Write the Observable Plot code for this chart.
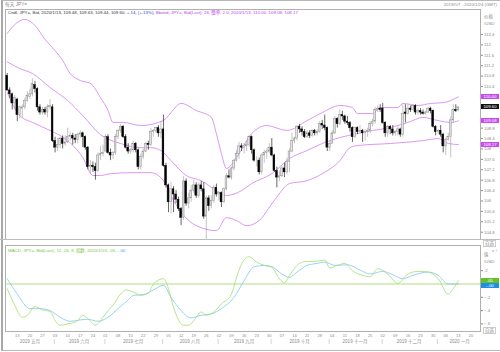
<!DOCTYPE html>
<html><head><meta charset="utf-8">
<script src="https://cdn.jsdelivr.net/npm/d3@7"></script>
<script src="https://cdn.jsdelivr.net/npm/@observablehq/plot@0.6"></script>
<style>
body{margin:0;background:#fff;}
#wrap{position:relative;width:500px;height:352px;overflow:hidden;font-family:"Liberation Sans","Noto Sans CJK SC",sans-serif;}
.t{position:absolute;white-space:nowrap;font-size:4.4px;line-height:5px;color:#8a8a8a;}
.box{position:absolute;left:481px;width:18px;height:5px;font-size:4.3px;line-height:5px;text-align:center;white-space:nowrap;}
.abs{position:absolute;}
</style></head><body><div id="wrap"></div>
<script>
// ---------- DATA ----------
const weekLabels = ["13","20","27","03","10","17","24","01","08","15","22","29","05","12","19","26","02","09","16","23","30","07","14","21","28","04","11","18","25","02","09","16","23","30","06","13","20"];
const monthLabels = ["2019 五月","2019 六月","2019 七月","2019 八月","2019 九月","2019 十月","2019 十一月","2019 十二月","2020 一月"];
const monthStart = [0,19,39,62,84,105,128,149,171];
const monthEnd   = [18,38,61,83,104,127,148,170,188];

const open = [
110.80,110.25,110.10,109.75,109.90,109.30,109.55,109.60,109.85,110.00,
110.10,110.45,110.30,109.60,109.40,109.50,109.40,109.60,109.60,108.30,
108.05,108.15,108.40,108.20,108.25,108.45,108.50,108.40,108.35,108.55,
108.60,108.45,108.05,107.30,107.35,107.30,107.15,107.75,107.80,107.90,
108.45,107.85,107.75,107.85,108.45,108.70,108.85,108.45,108.05,107.90,
107.95,108.20,107.95,107.30,107.70,107.90,108.20,108.15,108.65,108.70,
108.80,108.60,108.75,107.35,106.60,105.95,106.45,106.25,106.05,105.70,
105.35,106.75,105.90,106.10,106.40,106.60,106.20,106.60,106.45,105.40,
106.10,105.80,106.00,106.50,106.25,106.30,105.95,106.45,106.95,106.90,
107.25,107.55,107.80,108.10,108.05,108.10,108.15,108.45,107.95,107.55,
107.55,107.10,107.75,107.85,107.90,108.05,107.75,107.15,106.90,106.95,
107.25,107.10,107.50,107.90,108.30,108.40,108.85,108.75,108.65,108.45,
108.60,108.50,108.70,108.60,108.65,108.95,108.90,108.80,108.05,108.20,
108.60,109.15,108.95,109.30,109.25,109.05,109.00,108.80,108.45,108.80,
108.65,108.70,108.60,108.65,108.70,108.95,109.05,109.50,109.55,109.55,
109.00,108.60,108.85,108.75,108.60,108.65,108.75,108.55,109.40,109.35,
109.55,109.50,109.65,109.40,109.45,109.40,109.35,109.40,109.55,109.45,
108.85,108.65,108.70,108.55,108.10,108.35,108.45,109.10,109.50,109.48];
const high = [
110.90,110.35,110.15,110.05,109.95,109.65,109.70,109.95,110.20,110.30,
110.70,110.60,110.35,109.70,109.60,109.60,109.70,109.90,109.70,108.45,
108.40,108.45,108.50,108.50,108.80,108.65,108.60,108.55,108.60,108.70,
108.65,108.50,108.10,107.55,107.50,107.45,107.85,108.10,108.15,108.55,
108.55,108.00,107.90,108.55,108.75,108.95,108.90,108.55,108.20,108.00,
108.30,108.25,108.00,107.80,108.00,108.25,108.30,108.80,108.75,108.85,
108.90,109.05,109.30,107.45,106.65,106.70,106.55,106.40,106.15,105.75,
106.95,106.85,106.30,106.60,106.80,106.70,106.70,106.75,106.70,106.20,
106.20,106.20,106.60,106.65,106.35,106.35,106.50,107.05,107.20,107.30,
107.60,107.95,108.25,108.20,108.20,108.30,108.50,108.50,108.00,107.70,
107.65,107.80,107.95,108.00,108.20,108.40,107.80,107.30,107.15,107.35,
107.45,107.65,108.00,108.60,108.45,108.90,108.95,108.85,108.75,108.70,
108.70,108.75,108.75,108.75,109.05,109.10,109.30,108.85,108.30,108.70,
109.25,109.20,109.50,109.45,109.30,109.25,109.05,108.85,108.85,108.85,
108.90,108.75,108.75,108.80,109.05,109.15,109.60,109.65,109.70,109.75,
109.05,108.90,108.90,108.90,108.70,108.85,108.80,109.70,109.70,109.70,
109.65,109.70,109.70,109.55,109.55,109.50,109.45,109.60,109.60,109.50,
108.90,108.75,108.90,108.60,108.40,108.60,109.25,109.70,109.70,109.63];
const low = [
110.20,109.95,109.50,109.50,109.05,109.15,109.20,109.50,109.80,109.90,
110.00,110.15,109.45,109.30,109.30,109.30,109.20,109.50,108.25,107.85,
107.90,108.00,108.00,108.10,108.20,108.30,108.15,108.20,108.20,108.40,
108.05,107.95,107.20,107.05,107.10,106.80,107.10,107.55,107.70,107.90,
107.80,107.55,107.60,107.75,108.35,108.60,108.40,108.00,107.80,107.80,
107.85,107.85,107.20,107.20,107.60,107.85,107.95,108.10,108.45,108.60,
108.45,108.40,107.30,106.50,105.55,105.50,105.55,105.90,105.60,105.05,
105.25,105.80,105.70,105.95,106.30,106.10,106.10,106.35,105.30,104.50,
105.60,105.70,105.90,106.15,106.00,105.75,105.90,106.40,106.85,106.80,
107.15,107.50,107.60,107.90,107.80,107.90,108.05,107.80,107.50,107.30,
107.00,107.00,107.45,107.60,107.80,107.70,107.10,106.50,106.75,106.90,
106.90,107.00,107.10,107.85,108.20,108.30,108.60,108.50,108.40,108.40,
108.40,108.45,108.50,108.50,108.60,108.75,108.70,107.90,107.90,108.20,
108.55,108.80,108.90,109.10,108.95,108.90,108.65,108.25,108.40,108.55,
108.60,108.25,108.30,108.45,108.60,108.85,108.95,109.40,109.40,108.95,
108.45,108.45,108.55,108.50,108.50,108.50,108.45,108.45,109.00,109.30,
109.40,109.45,109.30,109.30,109.30,109.30,109.30,109.35,109.35,108.80,
108.50,108.55,108.45,107.85,107.75,108.30,107.65,109.00,109.40,109.44];
const close = [
110.25,110.10,109.75,109.95,109.30,109.60,109.60,109.85,110.05,110.10,
110.50,110.30,109.60,109.40,109.50,109.40,109.60,109.65,108.30,108.05,
108.15,108.40,108.20,108.25,108.45,108.50,108.40,108.35,108.55,108.60,
108.45,108.05,107.30,107.35,107.30,107.15,107.75,107.80,107.85,108.45,
107.85,107.75,107.85,108.45,108.70,108.85,108.45,108.05,107.90,107.95,
108.20,107.95,107.30,107.70,107.90,108.20,108.15,108.65,108.70,108.80,
108.60,108.75,107.35,106.60,105.95,106.45,106.25,106.05,105.70,105.35,
106.75,105.90,106.10,106.40,106.60,106.20,106.60,106.45,105.40,106.10,
105.80,106.00,106.50,106.25,106.30,105.95,106.45,106.95,106.90,107.25,
107.55,107.80,108.10,108.05,108.10,108.15,108.45,107.95,107.55,107.55,
107.10,107.75,107.85,107.90,108.05,107.75,107.15,106.90,106.95,107.25,
107.10,107.50,107.90,108.30,108.40,108.85,108.75,108.65,108.45,108.60,
108.50,108.70,108.60,108.65,108.95,108.90,108.80,108.05,108.20,108.60,
109.15,108.95,109.30,109.25,109.05,109.00,108.80,108.45,108.80,108.65,
108.70,108.60,108.65,108.70,108.95,109.05,109.50,109.55,109.50,109.00,
108.60,108.85,108.75,108.60,108.65,108.75,108.55,109.35,109.35,109.55,
109.50,109.65,109.40,109.45,109.40,109.35,109.40,109.55,109.45,108.85,
108.65,108.70,108.55,108.10,108.35,108.45,109.10,109.50,109.45,109.60];

// Bollinger band (26, 2.0) read at trading-day index
const bbUpper = [[0,112.44],[3,112.78],[7,112.98],[11,112.75],[15,112.21],[19,111.78],[22,111.40],[25,110.90],[29,110.63],[33,110.52],[37,109.98],[40,109.48],[42,109.02],[46,109.02],[53,108.90],[60,109.02],[63,109.17],[65,109.40],[69,109.75],[75,109.48],[81,109.21],[83,108.59],[85,107.82],[87,107.25],[91,107.67],[97,108.59],[103,108.90],[111,108.71],[119,109.09],[125,109.40],[132,109.67],[137,109.59],[139,109.36],[145,109.36],[148,109.59],[155,109.59],[157,109.75],[163,109.67],[168,109.75],[173,109.78],[179,110.00]];
const bbMiddle = [[0,111.35],[5,111.09],[10,110.90],[17,110.36],[24,109.86],[30,109.28],[37,108.55],[45,108.21],[53,108.05],[57,108.05],[61,107.94],[65,107.55],[71,106.98],[77,106.78],[83,106.40],[87,106.21],[93,106.40],[97,106.67],[105,107.05],[112,107.63],[119,107.94],[125,108.21],[132,108.44],[139,108.59],[145,108.71],[152,108.82],[159,109.02],[165,109.21],[171,109.09],[176,109.02],[179,109.08]];
const bbLower = [[0,110.17],[5,109.28],[10,109.02],[17,108.71],[24,108.32],[30,107.67],[34,106.98],[37,106.98],[41,107.05],[50,107.09],[57,107.09],[62,106.78],[66,106.02],[72,105.25],[78,104.94],[83,104.86],[87,105.36],[91,105.25],[95,105.05],[100,105.25],[106,106.02],[112,106.67],[119,106.78],[125,107.05],[132,107.55],[136,108.05],[139,108.13],[152,108.21],[165,108.32],[171,108.40],[175,108.21],[179,108.17]];

// MACD (12, 26, 9)
const macdPts = [[0,-0.07],[3,-0.32],[6,-0.50],[8,-0.47],[11,-0.34],[14,-0.39],[17,-0.41],[19,-0.55],[21,-0.62],[24,-0.60],[28,-0.55],[30,-0.47],[32,-0.52],[35,-0.62],[38,-0.50],[40,-0.40],[42,-0.32],[45,-0.15],[47,-0.09],[50,-0.12],[53,-0.17],[56,-0.14],[58,0.00],[62,0.08],[64,-0.07],[66,-0.35],[70,-0.62],[72,-0.62],[74,-0.55],[77,-0.42],[79,-0.47],[82,-0.42],[85,-0.30],[89,-0.15],[91,0.10],[93,0.30],[96,0.41],[99,0.33],[102,0.28],[105,0.25],[108,0.08],[110,0.02],[112,0.13],[116,0.31],[119,0.34],[122,0.34],[126,0.36],[128,0.24],[131,0.28],[134,0.31],[137,0.20],[141,0.13],[144,0.11],[147,0.23],[151,0.15],[155,0.01],[159,0.15],[163,0.19],[167,0.18],[171,0.08],[175,-0.15],[177,-0.07],[179,0.05]];
const signalPts = [[0,0.08],[4,-0.15],[9,-0.37],[13,-0.37],[17,-0.40],[21,-0.50],[25,-0.56],[29,-0.54],[32,-0.53],[36,-0.56],[40,-0.50],[44,-0.37],[48,-0.24],[50,-0.17],[54,-0.16],[58,-0.09],[62,-0.02],[65,-0.20],[69,-0.40],[73,-0.51],[77,-0.47],[81,-0.45],[85,-0.37],[90,-0.20],[94,0.05],[98,0.26],[102,0.28],[105,0.26],[109,0.15],[112,0.10],[115,0.18],[119,0.28],[123,0.31],[126,0.33],[130,0.28],[135,0.29],[140,0.21],[144,0.15],[149,0.19],[153,0.14],[157,0.08],[161,0.13],[167,0.18],[171,0.13],[175,0.00],[179,0.00]];

const priceTicks = [112.4,112,111.6,111.2,110.8,110.4,108.8,108.4,108,107.6,107.2,106.8,106.4,106,105.6,105.2,104.8];
const macdTicks = [0.2,-0.2,-0.4,-0.6];
const lastBands = {upper: 110.00, middle: 109.08, lower: 108.17};
const lastMacd = {macd: 0.05, signal: -0.00};

// ---------- RENDER ----------
const FONT = '"Liberation Sans","Noto Sans CJK SC",sans-serif';
const BB = "#d27cf2", GREEN = "#a4dc6e", BLUE = "#7ec8f0", AX = "#8a8a8a";
const X0 = -0.675, X1 = 187.8;
const wrap = document.getElementById("wrap");
function add(html, style, cls="t"){const d=document.createElement("div");d.className=cls;d.innerHTML=html;Object.assign(d.style,style);wrap.appendChild(d);return d;}

const candles = close.map((c,i)=>({i,o:open[i],h:high[i],l:low[i],c,up:c>=open[i]}));
const pairs = a => a.map(([i,v])=>({i,v}));

const price = Plot.plot({
  width:500, height:230, marginTop:0, marginBottom:0, marginLeft:5, marginRight:20,
  style:{fontFamily:FONT, overflow:"visible", background:"transparent"},
  x:{type:"linear", domain:[X0,X1], axis:null},
  y:{domain:[104.52,113.36]},
  marks:[
    Plot.frame({stroke:"#b0b0b0"}),
    Plot.line(pairs(bbUpper),{x:"i",y:"v",stroke:BB,strokeWidth:0.8,curve:"monotone-x"}),
    Plot.line(pairs(bbMiddle),{x:"i",y:"v",stroke:BB,strokeWidth:0.8,curve:"monotone-x"}),
    Plot.line(pairs(bbLower),{x:"i",y:"v",stroke:BB,strokeWidth:0.8,curve:"monotone-x"}),
    Plot.ruleX(candles,{x:"i",y1:"l",y2:"h",stroke:d=>d.up?"#9a9a9a":"#000000",strokeWidth:0.6}),
    Plot.rect(candles,{x1:d=>d.i-0.34,x2:d=>d.i+0.34,y1:"o",y2:"c",fill:d=>d.up?"#e4e4e4":"#000000",stroke:d=>d.up?"#8c8c8c":"#000000",strokeWidth:0.5}),
    Plot.axisY(priceTicks,{anchor:"right",tickSize:2,tickPadding:1.5,fontSize:4.3,color:AX,tickFormat:d=>String(+d.toFixed(1))})
  ]
});
const pDiv = add("", {left:"0px", top:"9px"}, "abs"); pDiv.appendChild(price);

const months = monthLabels.map((label,k)=>({label, mid:(monthStart[k]+monthEnd[k])/2}));
const weekIdx = weekLabels.map((_,k)=>4+5*k);
const weekMap = new Map(weekIdx.map((d,k)=>[d,weekLabels[k]]));

const macd = Plot.plot({
  width:500, height:105, marginTop:0, marginBottom:19, marginLeft:5, marginRight:20,
  style:{fontFamily:FONT, overflow:"visible", background:"transparent"},
  x:{type:"linear", domain:[X0,X1]},
  y:{domain:[-0.714,0.579]},
  marks:[
    Plot.frame({stroke:"#b0b0b0"}),
    Plot.ruleY([0],{stroke:GREEN,strokeWidth:0.9}),
    Plot.line(pairs(signalPts),{x:"i",y:"v",stroke:BLUE,strokeWidth:0.8,curve:"monotone-x"}),
    Plot.line(pairs(macdPts),{x:"i",y:"v",stroke:GREEN,strokeWidth:0.8,curve:"monotone-x"}),
    Plot.axisY(macdTicks,{anchor:"right",tickSize:2,tickPadding:1.5,fontSize:4.3,color:AX,tickFormat:d=>d3.format(".1f")(d).replace("0.",".")}),
    Plot.axisX(weekIdx,{anchor:"bottom",tickSize:0,tickPadding:2.5,fontSize:4,color:AX,tickFormat:d=>weekMap.get(d)}),
    Plot.text(months,{x:"mid",text:"label",frameAnchor:"bottom",dy:11,fontSize:4.5,fill:AX}),
    Plot.text(monthStart.slice(1),{x:d=>d-0.3,text:()=>"|",frameAnchor:"bottom",dy:11,fontSize:4.5,fill:AX})
  ]
});
const mDiv = add("", {left:"0px", top:"245px"}, "abs"); mDiv.appendChild(macd);

// outer frame & separators
add("", {left:"1px",top:"0px",width:"497px",height:"349px",border:"1px solid #b8b8b8",borderLeft:"2px solid #a8a8a8"}, "abs");
add("", {left:"0px",top:"239px",width:"500px",height:"1px",background:"#bdbdbd"}, "abs");

// titles
add("每天 JPY=", {left:"5px",top:"2px",fontSize:"4.7px"});
add("2019/5/7 - 2020/1/24 (GMT)", {right:"3px",top:"2px",fontSize:"4.3px"});
add('<span style="color:#333">Cndl, JPY=, Bid, 2020/1/13, 109.48, 109.63, 109.44, 109.60, </span><span style="color:#3344cc">+.14, (+.13%), </span><span style="color:#c040e8">Bband, JPY=, Bid(Last), 26, 簡单, 2.0, 2020/1/13, 110.00, 109.08, 108.17</span>', {left:"8px",top:"10px"});
add('<span style="color:#7cc440">MACD, JPY=, Bid(Last), 12, 26, 9, 指数, 2020/1/13, .05, </span><span style="color:#3aa8e8">-.00</span>', {left:"8px",top:"248px"});
add("价格", {left:"484px",top:"14px"});
add("/USD", {left:"484px",top:"21px"});
add("值", {left:"484px",top:"252px"});
add("/USD", {left:"484px",top:"259px"});
add("自选", {left:"483px",top:"240px",border:"0.5px solid #ccc",padding:"0 1px"});
add("自选", {left:"483px",top:"327px",border:"0.5px solid #ccc",padding:"0 1px"});

// value boxes on the axes, positioned with the charts' own y scales
const py = v => 9 + price.scale("y").apply(v);
const my = v => 245 + macd.scale("y").apply(v);
function box(txt, y, bg, fg){add(txt,{top:(y-2.5)+"px",background:bg,color:fg},"box");}
box(lastBands.upper.toFixed(2), py(lastBands.upper), "#c94af0", "#fff");
box(close[close.length-1].toFixed(2), py(close[close.length-1]), "#111", "#fff");
box(lastBands.middle.toFixed(2), py(lastBands.middle), "#c94af0", "#fff");
box(lastBands.lower.toFixed(2), py(lastBands.lower), "#c94af0", "#fff");
const gy = my(lastMacd.macd), by = Math.max(my(lastMacd.signal), gy + 5.5);
box(".05", gy, "#66c02a", "#fff");
box("-.00", by, "#1e8fe6", "#fff");
</script></body></html>
